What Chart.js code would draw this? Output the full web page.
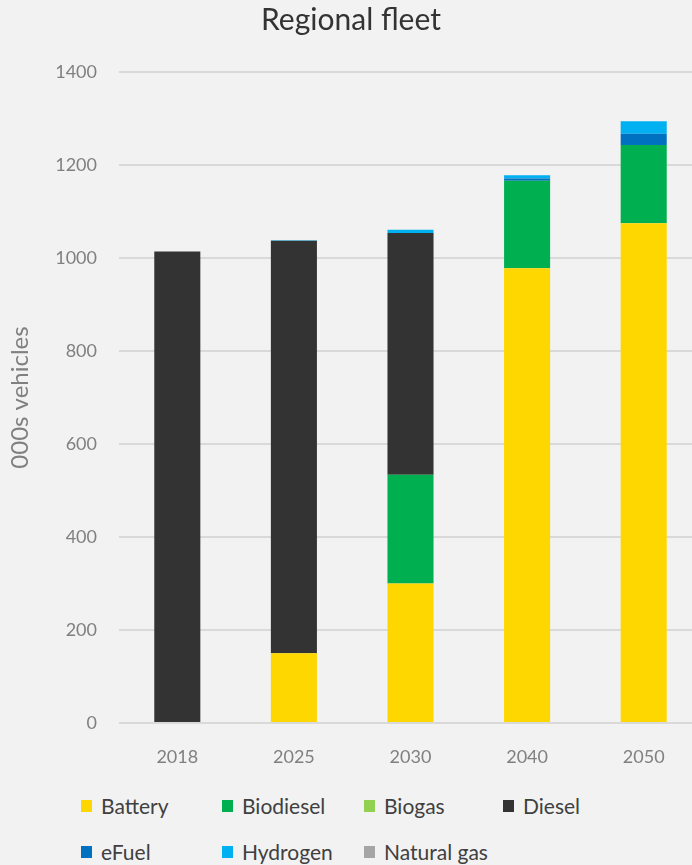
<!DOCTYPE html>
<html>
<head>
<meta charset="utf-8">
<script src="https://cdn.jsdelivr.net/npm/chart.js@4"></script>
<style>
  html, body { margin: 0; padding: 0; background: #f2f2f2; overflow: hidden; }
  #wrap { position: relative; width: 702px; height: 785px; }
  #legend { position: absolute; left: 0; top: 793px; width: 692px; height: 72px;
    font-family: Lato, "Open Sans", sans-serif; font-size: 21px; color: #404040; }
  .item { position: absolute; display: flex; align-items: center; white-space: nowrap; }
  .box { width: 11px; height: 12px; margin-right: 9px; }
</style>
</head>
<body>
<div id="wrap"><canvas id="fleet"></canvas></div>
<div id="legend"></div>
<script>
// thousands of vehicles per fuel type
const years = ["2018", "2025", "2030", "2040", "2050"];
const battery    = [0, 150, 300, 978, 1075];
const biodiesel  = [0, 0, 234, 188, 168];
const biogas     = [0, 0, 0, 0, 0];
const diesel     = [1014, 887, 520, 0, 0];
const efuel      = [0, 0, 0, 5, 24];
const hydrogen   = [0, 1, 7, 7, 27];
const naturalGas = [0, 0, 0, 0, 0];

const yTicks = [0, 200, 400, 600, 800, 1000, 1200, 1400];

const series = [
  { label: "Battery", data: battery, color: "#ffd700" },
  { label: "Biodiesel", data: biodiesel, color: "#00b050" },
  { label: "Biogas", data: biogas, color: "#92d050" },
  { label: "Diesel", data: diesel, color: "#333333" },
  { label: "eFuel", data: efuel, color: "#0070c0" },
  { label: "Hydrogen", data: hydrogen, color: "#00b0f0" },
  { label: "Natural gas", data: naturalGas, color: "#a5a5a5" },
];

const greyText = "#808080";
const font = "Lato, 'Open Sans', sans-serif";

const chart = new Chart(document.getElementById("fleet"), {
  type: "bar",
  data: {
    labels: years,
    datasets: series.map(s => ({
      label: s.label,
      data: s.data,
      backgroundColor: s.color,
      borderWidth: 0,
      categoryPercentage: 1,
      barPercentage: 0.395,
    })),
  },
  options: {
    responsive: true,
    maintainAspectRatio: false,
    animation: false,
    layout: { padding: { top: 0, right: 0, bottom: 0, left: 0 } },
    plugins: {
      legend: { display: false },
      tooltip: { enabled: false },
      title: {
        display: true,
        text: "Regional fleet",
        color: "#333333",
        font: { family: font, size: 30, weight: "normal" },
        padding: { top: 2, bottom: 34 },
      },
    },
    scales: {
      x: {
        stacked: true,
        grid: { display: false },
        border: { display: false },
        ticks: { color: greyText, font: { family: font, size: 18 }, padding: 15 },
        afterFit: s => { s.height = 62; },
      },
      y: {
        stacked: true,
        min: 0,
        max: 1400,
        afterBuildTicks: s => { s.ticks = yTicks.map(v => ({ value: v })); },
        grid: { color: "#d9d9d9", lineWidth: 2, drawTicks: false },
        border: { display: false },
        ticks: {
          color: greyText,
          font: { family: font, size: 18 },
          padding: 22,
          callback: v => String(v),
        },
        title: {
          display: true,
          text: "000s vehicles",
          color: greyText,
          font: { family: font, size: 24 },
          padding: { top: 6, bottom: 0 },
        },
        afterFit: s => { s.width = 119; },
      },
    },
  },
});

// legend laid out in the same grid as the original
const legendCols = [81, 222, 364, 503];
const legendRows = [0, 46];
const legend = document.getElementById("legend");
chart.data.datasets.forEach((ds, i) => {
  const item = document.createElement("div");
  item.className = "item";
  item.style.left = legendCols[i % 4] + "px";
  item.style.top = legendRows[Math.floor(i / 4)] + "px";
  item.innerHTML = `<span class="box" style="background:${ds.backgroundColor}"></span>${ds.label}`;
  legend.appendChild(item);
});
</script>
</body>
</html>
